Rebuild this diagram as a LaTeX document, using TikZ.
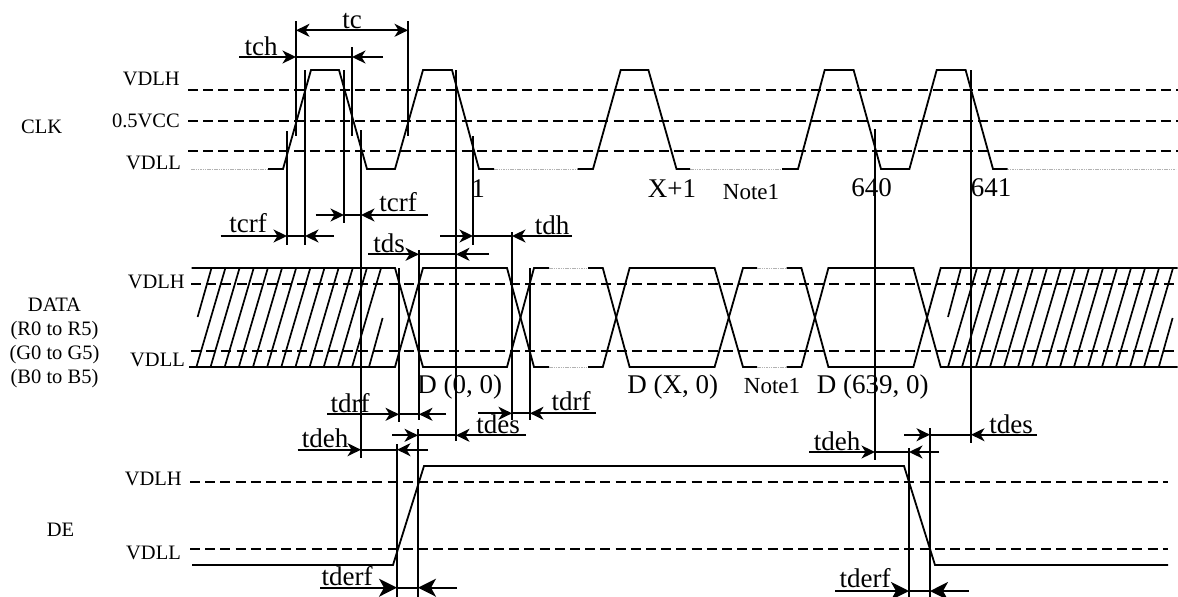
\documentclass[tikz,border=0pt]{standalone}
\usepackage{fontspec}
\setmainfont{Liberation Serif}
\usetikzlibrary{arrows.meta}
\tikzset{
  wave/.style={line width=1.8pt,line join=miter},
  level/.style={line width=1.9pt,dash pattern=on 10pt off 5.2pt},
  faint/.style={line width=0.7pt,draw=black!30,dash pattern=on 1.5pt off 0.8pt},
  vline/.style={line width=1.7pt},
  hatch/.style={line width=1.7pt},
  dimarrow/.style={line width=1.8pt,-{Stealth[length=13.5pt,width=13pt,inset=4pt]}},
  bigarrow/.style={line width=1.8pt,-{Stealth[length=18pt,width=18pt,inset=5pt]}},
  dimline/.style={line width=1.8pt},
  big/.style={font=\fontsize{27}{27}\selectfont,anchor=base,inner sep=0pt},
  small/.style={font=\fontsize{20.5}{20.5}\selectfont,anchor=base east,inner sep=0pt},
  sig/.style={font=\fontsize{20.5}{20.5}\selectfont,anchor=base,inner sep=0pt},
  note/.style={font=\fontsize{23}{23}\selectfont,anchor=base,inner sep=0pt},
}
\newcommand{\dimpair}[6][dimarrow]{%
  \draw[#1] (#3,#2) -- (#4,#2);
  \draw[dimline] (#4,#2) -- (#5,#2);
  \draw[#1] (#6,#2) -- (#5,#2);}
\begin{document}
\begin{tikzpicture}[x=1pt,y=-1pt]
\useasboundingbox (0,0) rectangle (1178,597);
% level lines
\foreach \yy in {90,120.7,150.7} \draw[level] (188,\yy) -- (1178,\yy);
\foreach \yy in {284,350.7} \draw[level] (191,\yy) -- (1178,\yy);
\foreach \yy in {482,548.7} \draw[level] (190,\yy) -- (1168,\yy);
% CLK
\draw[faint] (191,169) -- (268,169);
\draw[faint] (494,169) -- (577.5,169);
\draw[faint] (690,169) -- (782,169);
\draw[faint] (1007.6,169) -- (1175.5,169);
\draw[wave] (268,169) -- (283,169) -- (311,70) -- (339,70) -- (367,169) -- (395,169) -- (423,70) -- (452,70) -- (479,169) -- (494,169);
\draw[wave] (577.5,169) -- (593,169) -- (620.7,70) -- (648.4,70) -- (676.5,169) -- (690,169);
\draw[wave] (782,169) -- (798,169) -- (824.7,70) -- (853.6,70) -- (881,169) -- (909.4,169) -- (936.7,70) -- (965.6,70) -- (993,169) -- (1007.6,169);
% DATA envelopes
\draw[wave] (191.7,268) -- (395,268) -- (423,367) -- (507,367) -- (534,268) -- (549,268);
\draw[wave] (189,367) -- (395,367) -- (423,268) -- (507,268) -- (534,367) -- (549,367);
\draw[faint] (549,268) -- (588,268);
\draw[faint] (549,367) -- (588,367);
\draw[wave] (588,268) -- (602.8,268) -- (629.6,367) -- (714.6,367) -- (743,268) -- (757,268);
\draw[wave] (588,367) -- (602.8,367) -- (629.6,268) -- (714.6,268) -- (743,367) -- (757,367);
\draw[faint] (757,268) -- (786.6,268);
\draw[faint] (757,367) -- (786.6,367);
\draw[wave] (786.6,268) -- (801.4,268) -- (828.4,367) -- (913.4,367) -- (940.7,268) -- (1177.6,268);
\draw[wave] (786.6,367) -- (801.4,367) -- (828.4,268) -- (913.4,268) -- (940.7,367) -- (1177.6,367);
% hatching left
\draw[hatch] (197.6,317) -- (211.5,268);
\foreach \i in {0,...,11} \draw[hatch] ({196.4+14.15*\i},367) -- ({225.4+14.15*\i},268);
\draw[hatch] (369,367) -- (382.6,318);
% hatching right
\draw[hatch] (948,317) -- (961,268);
\foreach \i in {0,...,14} \draw[hatch] ({948+14*\i},367) -- ({977+14*\i},268);
\draw[hatch] (1158.8,367) -- (1172.6,318);
% DE
\draw[wave] (192,565) -- (393,565) -- (424,466) -- (904,466) -- (935,565) -- (1168,565);
% verticals
\foreach \xx/\ya/\yb in {
  296/21/136, 408/21/136, 352/47/136,
  305/70/245, 287/131/245, 344/70/223,
  361/130/458, 456/70/441, 473/136/245,
  875/129/460, 971/70/443,
  399/268/421.7, 419/250/420, 512/232/420, 530/268/420,
  418/429/597, 397/444/597,
  930/428/597, 909/448/597}
  \draw[vline] (\xx,\ya) -- (\xx,\yb);
% dimension arrows
\draw[line width=1.8pt,{Stealth[length=13.5pt,width=13pt,inset=4pt]}-{Stealth[length=13.5pt,width=13pt,inset=4pt]}] (296,30.3) -- (408,30.3);
\dimpair{57}{239}{296}{352}{383}
\dimpair{236}{220.7}{287}{305}{334}
\dimpair{215}{315.7}{344}{361}{428}
\dimpair{236}{440}{473}{512}{572}
\dimpair{254.3}{368}{419}{456}{489}
\dimpair{414.3}{327}{399}{419}{446}
\dimpair{413.3}{478}{512}{530}{596}
\dimpair{435.3}{392}{418}{456}{526}
\dimpair{449.7}{297.5}{361}{397}{428}
\dimpair[bigarrow]{587.7}{320}{397}{418}{457}
\dimpair{434.7}{904}{930}{971}{1037}
\dimpair{452}{809}{875}{909}{939}
\dimpair[bigarrow]{591}{835}{909}{930}{969}
% labels
\node[big] (tc) at (352,28) {tc};
\node[big] (tch) at (261,55) {tch};
\node[big] (tcrfa) at (248,232.7) {tcrf};
\node[big] (tcrfb) at (398,211) {tcrf};
\node[big] (tdh) at (552,234) {tdh};
\node[big] (tds) at (389,252) {tds};
\node[big] (tdrfa) at (350,412) {tdrf};
\node[big] (tdrfb) at (571,410.7) {tdrf};
\node[big] (tdesa) at (498,433) {tdes};
\node[big] (tdeha) at (325,447) {tdeh};
\node[big] (tderfa) at (347,585) {tderf};
\node[big] (tdehb) at (837,450) {tdeh};
\node[big] (tdesb) at (1011,433) {tdes};
\node[big] (tderfb) at (865,587) {tderf};
\node[big] (n1) at (478,197) {1};
\node[big] (nx) at (672,197) {X+1};
\node[note] (na) at (751,199) {Note1};
\node[big] (n640) at (871.7,196) {640};
\node[big] (n641) at (991,196) {641};
\node[big] (d0) at (459.7,393) {D (0, 0)};
\node[big] (dx) at (672.8,393) {D (X, 0)};
\node[note] (nb) at (772,393) {Note1};
\node[big] (d639) at (872.7,393) {D (639, 0)};
\node[sig] (clk) at (41.7,133) {CLK};
\node[small] (ca) at (180,85) {VDLH};
\node[small] (cb) at (180,127) {0.5VCC};
\node[small] (cc) at (181,169) {VDLL};
\node[small] (da) at (185,288) {VDLH};
\node[small] (db) at (185,366) {VDLL};
\node[sig] (l1) at (54.5,311) {DATA};
\node[sig] (l2) at (54.5,335) {(R0 to R5)};
\node[sig] (l3) at (54.5,359) {(G0 to G5)};
\node[sig] (l4) at (54.5,383) {(B0 to B5)};
\node[small] (ea) at (182,485.7) {VDLH};
\node[small] (eb) at (181,559) {VDLL};
\node[sig] (de) at (60.5,536) {DE};
\end{tikzpicture}
\end{document}
